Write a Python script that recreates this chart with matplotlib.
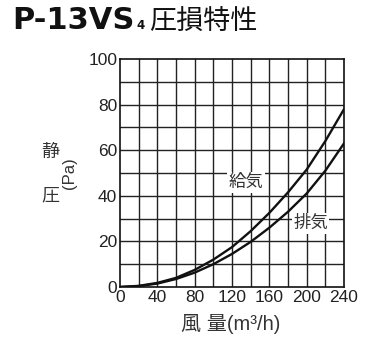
import numpy as np
import matplotlib
matplotlib.use("Agg")
import matplotlib.pyplot as plt

# Data
air_flow = [0, 20, 40, 60, 80, 100, 120, 140, 160, 180, 200, 220, 240]  # m3/h
supply_pa = [0, 0.5, 1.8, 4.0, 7.5, 12.0, 17.5, 24.5, 32.5, 41.5, 51.5, 64.0, 78.0]
exhaust_pa = [0, 0.4, 1.5, 3.5, 6.3, 10.0, 14.5, 19.8, 26.0, 33.0, 41.0, 51.0, 63.0]
x_ticks = [0, 40, 80, 120, 160, 200, 240]
y_ticks = [0, 20, 40, 60, 80, 100]

LATIN = ['Liberation Sans', 'Noto Sans CJK JP']
CJK = ['Noto Sans CJK JP', 'DejaVu Sans']

W, H = 373, 337
fig = plt.figure(figsize=(W / 100, H / 100), dpi=100)
ax = fig.add_axes([120 / W, 1 - 287 / H, 224 / W, 228 / H])

ax.set_xlim(0, 240)
ax.set_ylim(0, 100)

# grid every 20 m3/h and 10 Pa
for gx in np.arange(20, 240, 20):
    ax.axvline(gx, color='#222222', lw=1.0, zorder=1)
for gy in np.arange(10, 100, 10):
    ax.axhline(gy, color='#222222', lw=1.0, zorder=1)
for sp in ax.spines.values():
    sp.set_linewidth(1.2)
    sp.set_color('#111111')

ax.plot(air_flow, supply_pa, color='#111111', lw=1.7, zorder=3)
ax.plot(air_flow, exhaust_pa, color='#111111', lw=1.7, zorder=3)

box = dict(facecolor='white', edgecolor='none', pad=1.0)
ax.text(135, 46, '給気', family=CJK, fontsize=12.5, color='#333333',
        ha='center', va='center', bbox=box, zorder=4)
ax.text(204, 28, '排気', family=CJK, fontsize=12.5, color='#333333',
        ha='center', va='center', bbox=box, zorder=4)

ax.set_xticks(x_ticks)
ax.set_yticks(y_ticks)
ax.tick_params(length=0, pad=2, labelsize=12.5, colors='#222222')
for lab in ax.get_xticklabels() + ax.get_yticklabels():
    lab.set_family(LATIN)

# axis labels
fig.text(50 / W, 1 - 152 / H, '静', family=CJK, fontsize=13, color='#333333',
         ha='center', va='center')
fig.text(50 / W, 1 - 195 / H, '圧', family=CJK, fontsize=13, color='#333333',
         ha='center', va='center')
fig.text(70 / W, 1 - 173 / H, '(Pa)', family=LATIN, fontsize=12, color='#333333',
         ha='center', va='center', rotation=90)
fig.text(231 / W, 1 - 324 / H, '風 量(m³/h)', family=LATIN, fontsize=14.5, color='#333333',
         ha='center', va='center')

# title, pieces placed one after another
renderer = fig.canvas.get_renderer()
base_y = 1 - 29 / H
t1 = fig.text(12 / W, base_y, 'P-13VS', family='DejaVu Sans', fontweight='bold',
              fontsize=22, color='#111111', ha='left', va='baseline')
x1 = t1.get_window_extent(renderer).x1
t2 = fig.text((x1 + 2) / W, base_y, '4', family='DejaVu Sans', fontweight='bold',
              fontsize=8.5, color='#111111', ha='left', va='baseline')
x2 = t2.get_window_extent(renderer).x1
fig.text((x2 + 4) / W, base_y, '圧損特性', family=CJK, fontsize=19.5,
         color='#111111', ha='left', va='baseline')

fig.savefig('out.png', dpi=100)
